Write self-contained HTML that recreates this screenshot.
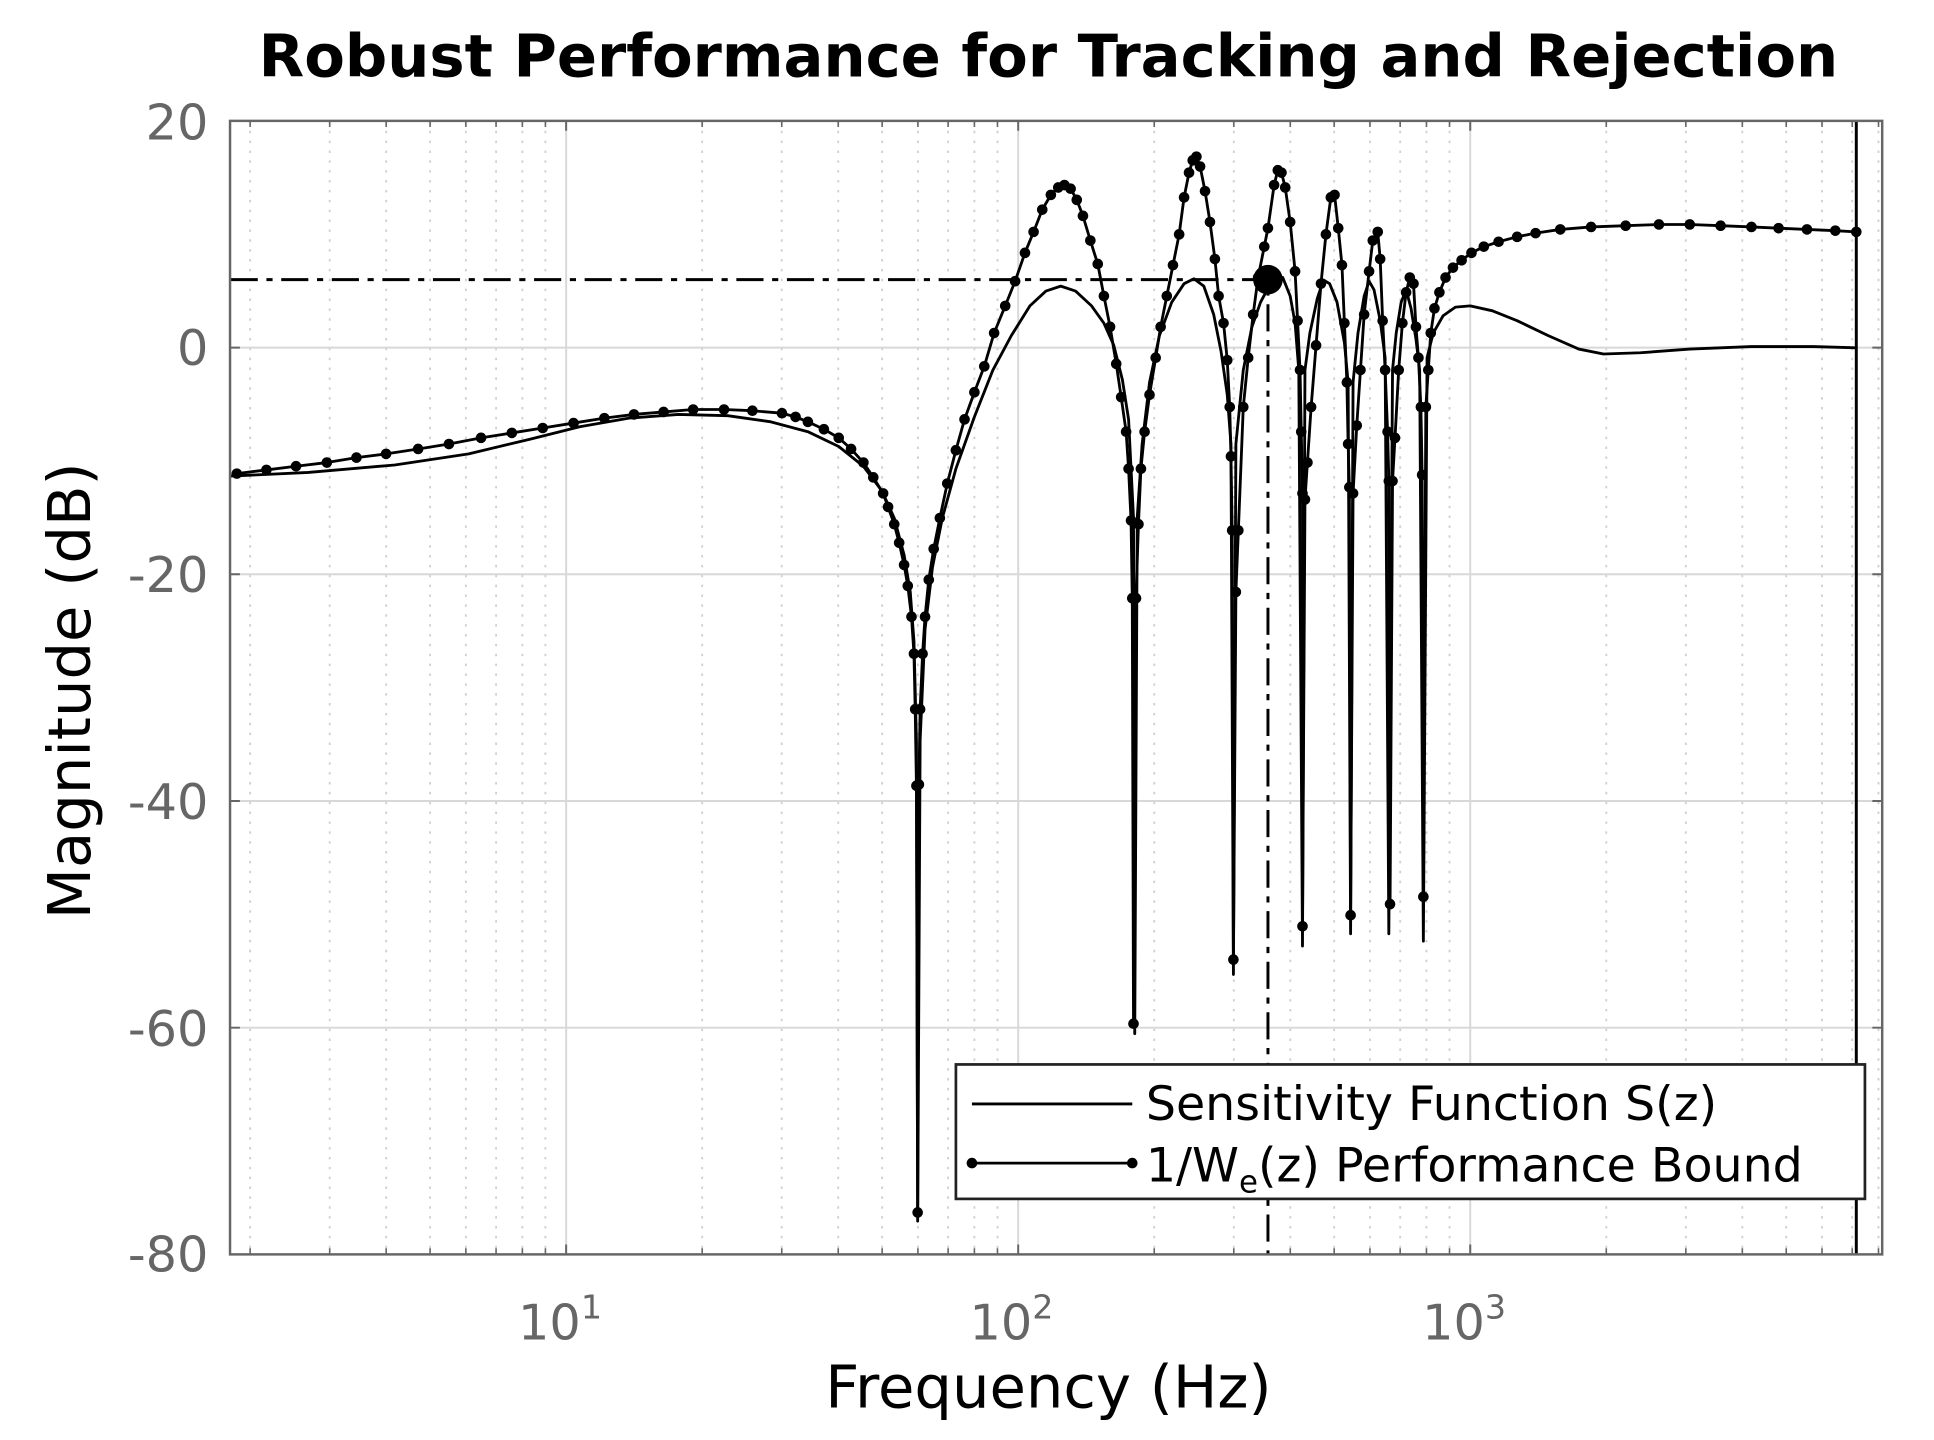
<!DOCTYPE html>
<html><head><meta charset="utf-8"><style>
html,body{margin:0;padding:0;background:#fff;}
svg{display:block;}
text{font-family:"DejaVu Sans","Liberation Sans",sans-serif;}
</style></head><body>
<svg width="1934" height="1440" viewBox="0 0 1934 1440" xmlns="http://www.w3.org/2000/svg">
<defs>
<marker id="d" markerUnits="userSpaceOnUse" markerWidth="12" markerHeight="12" viewBox="-6 -6 12 12" refX="0" refY="0"><circle r="4.3" fill="#000"/></marker>
</defs>
<g transform="scale(1.23342)">
<rect x="186.5" y="98" width="1339.5" height="919" fill="#fff"/>
<g stroke="#d0d0d0" stroke-width="1.5" stroke-dasharray="2,6">
<path d="M202.8 98V1017M267.3 98V1017M313.1 98V1017M348.7 98V1017M377.7 98V1017M402.2 98V1017M423.5 98V1017M442.2 98V1017
M569.3 98V1017M633.8 98V1017M679.6 98V1017M715.2 98V1017M744.2 98V1017M768.7 98V1017M790 98V1017M808.7 98V1017
M935.8 98V1017M1000.3 98V1017M1046.1 98V1017M1081.7 98V1017M1110.7 98V1017M1135.2 98V1017M1156.5 98V1017M1175.2 98V1017
M1302.3 98V1017M1366.8 98V1017M1412.6 98V1017M1448.2 98V1017M1477.2 98V1017M1501.7 98V1017M1523 98V1017"/>
</g>
<g stroke="#d8d8d8" stroke-width="1.6">
<path d="M459 98V1017M825.5 98V1017M1192 98V1017M186.5 281.8H1526M186.5 465.6H1526M186.5 649.4H1526M186.5 833.2H1526"/>
</g>
<g stroke="#666" stroke-width="1.6">
<path d="M459 98v8M825.5 98v8M1192 98v8M459 1017v-8M825.5 1017v-8M1192 1017v-8
M186.5 281.8h8M186.5 465.6h8M186.5 649.4h8M186.5 833.2h8M1526 281.8h-8M1526 465.6h-8M1526 649.4h-8M1526 833.2h-8"/>
<path stroke-width="1.3" d="M202.8 98v5M267.3 98v5M313.1 98v5M348.7 98v5M377.7 98v5M402.2 98v5M423.5 98v5M442.2 98v5M569.3 98v5M633.8 98v5M679.6 98v5M715.2 98v5M744.2 98v5M768.7 98v5M790 98v5M808.7 98v5M935.8 98v5M1000.3 98v5M1046.1 98v5M1081.7 98v5M1110.7 98v5M1135.2 98v5M1156.5 98v5M1175.2 98v5M1302.3 98v5M1366.8 98v5M1412.6 98v5M1448.2 98v5M1477.2 98v5M1501.7 98v5M1523 98v5
M202.8 1017v-5M267.3 1017v-5M313.1 1017v-5M348.7 1017v-5M377.7 1017v-5M402.2 1017v-5M423.5 1017v-5M442.2 1017v-5M569.3 1017v-5M633.8 1017v-5M679.6 1017v-5M715.2 1017v-5M744.2 1017v-5M768.7 1017v-5M790 1017v-5M808.7 1017v-5M935.8 1017v-5M1000.3 1017v-5M1046.1 1017v-5M1081.7 1017v-5M1110.7 1017v-5M1135.2 1017v-5M1156.5 1017v-5M1175.2 1017v-5M1302.3 1017v-5M1366.8 1017v-5M1412.6 1017v-5M1448.2 1017v-5M1477.2 1017v-5M1501.7 1017v-5M1523 1017v-5"/>
</g>
<path d="M187 226.7H1028V1017" fill="none" stroke="#000" stroke-width="2.4" stroke-dasharray="22,7,5,7"/>
<path d="M1505 98V1017" stroke="#000" stroke-width="2.4"/>
<polyline fill="none" stroke="#000" stroke-width="2.3" stroke-linejoin="round" points="187,386 250,383 320,377 380,368 430,356 470,346 510,339 550,336 590,337 625,342 655,350 680,362 700,378 715,398 725,420 733,450 738,480 741,520 743,600 744,990 746,600 750,510 756,460 764,420 775,380 790,338 805,300 820,272 835,248 848,236 860,232 872,236 885,248 895,262 903,280 910,308 915,340 917,380 919,420 920,838 922,420 926,360 932,310 940,272 950,245 960,230 968,226 976,232 984,255 990,285 995,320 998,360 1000,790 1002,360 1008,300 1015,265 1022,245 1030,230 1040,225 1046,240 1050,262 1053,300 1056,767 1058,300 1062,270 1068,242 1073,227 1078,230 1084,245 1090,278 1093,310 1095,757 1097,310 1101,270 1106,240 1110,228 1114,235 1119,260 1123,290 1126,757 1129,300 1132,270 1136,245 1140,235 1144,250 1148,275 1151,300 1154,763 1157,290 1162,270 1170,256 1180,249 1192,248 1210,252 1230,260 1255,272 1280,283 1300,287 1330,286 1370,283 1420,281 1470,281 1505,282"/>
<polyline fill="none" stroke="#000" stroke-width="2.3" stroke-linejoin="round" marker-start="url(#d)" marker-mid="url(#d)" marker-end="url(#d)" points="192,384 216,381 240,378 265,375 289,371 313,368 339,364 364,360 390,355 415,351 440,347 465,343 490,339 514,336 538,334 562,332 587,332 610,333 634,335 645,338 655,342 668,348 680,355 690,364 700,375 708,387 716,400 720,411 725,425 729,440 733,458 736,475 739,500 741,530 742,575 743,637 744,983 745,636 746,575 748,530 750,500 753,470 757,445 762,420 768,392 775,365 782,340 790,318 798,297 806,270 815,248 823,228 831,205 838,188 845,170 852,158 858,152 863,150 868,153 873,162 878,175 884,195 890,214 895,240 900,265 905,295 909,322 913,350 915,380 917,422 918,485 919,830 921,485 923,425 925,380 928,350 932,320 937,290 941,265 946,240 951,215 956,190 960,160 964,140 967,130 970,127 973,135 977,155 981,180 985,210 988,240 992,262 995,292 997,330 998,370 999,430 1000,778 1002,480 1004,430 1008,330 1012,290 1016,255 1020,225 1025,200 1028,185 1033,150 1036,138 1039,140 1042,152 1046,180 1050,220 1052,260 1054,300 1055,350 1056,400 1056,751 1058,405 1060,375 1063,330 1067,280 1071,230 1075,190 1079,160 1082,158 1085,185 1088,215 1090,262 1092,310 1093,360 1094,395 1095,742 1097,400 1100,345 1103,300 1106,255 1110,220 1113,195 1117,188 1119,210 1121,260 1123,300 1125,350 1126,390 1127,733 1129,390 1131,355 1134,300 1137,262 1140,237 1143,225 1146,230 1148,265 1150,290 1152,330 1153,385 1154,727 1156,330 1158,300 1160,270 1163,250 1167,237 1172,225 1178,217 1185,211 1193,205 1203,200 1215,196 1230,192 1245,189 1265,186 1290,184 1318,183 1345,182 1370,182 1395,183 1420,184 1442,185 1465,186 1488,187 1505,188"/>
<circle cx="1028" cy="226.7" r="12" fill="#000"/>
<rect x="186.5" y="98" width="1339.5" height="919" fill="none" stroke="#666" stroke-width="2"/>
<rect x="775" y="863" width="737" height="109" fill="#fff" stroke="#222" stroke-width="2.2"/>
<path d="M788 895H918" stroke="#000" stroke-width="2.3"/>
<polyline points="788,943 918,943" fill="none" stroke="#000" stroke-width="2.3" marker-start="url(#d)" marker-end="url(#d)"/>
<text x="929" y="908" font-size="38.5">Sensitivity Function S(z)</text>
<text x="929" y="958" font-size="38.5">1/W<tspan font-size="25" dy="9">e</tspan><tspan dy="-9">(z) Performance Bound</tspan></text>
<g fill="#666" font-size="40" text-anchor="end">
<text x="169" y="113">20</text>
<text x="169" y="296">0</text>
<text x="169" y="480">-20</text>
<text x="169" y="664">-40</text>
<text x="169" y="848">-60</text>
<text x="169" y="1031">-80</text>
</g>
<g fill="#666" font-size="40">
<text x="420" y="1086">10<tspan font-size="27" dy="-17">1</tspan></text>
<text x="786" y="1086">10<tspan font-size="27" dy="-17">2</tspan></text>
<text x="1153" y="1086">10<tspan font-size="27" dy="-17">3</tspan></text>
</g>
<text x="850" y="1141" font-size="48" text-anchor="middle">Frequency  (Hz)</text>
<text transform="translate(73,560) rotate(-90)" font-size="48" text-anchor="middle">Magnitude (dB)</text>
<text x="850" y="62" font-size="48" font-weight="bold" text-anchor="middle">Robust Performance for Tracking and Rejection</text>
</g>
</svg>
</body></html>
